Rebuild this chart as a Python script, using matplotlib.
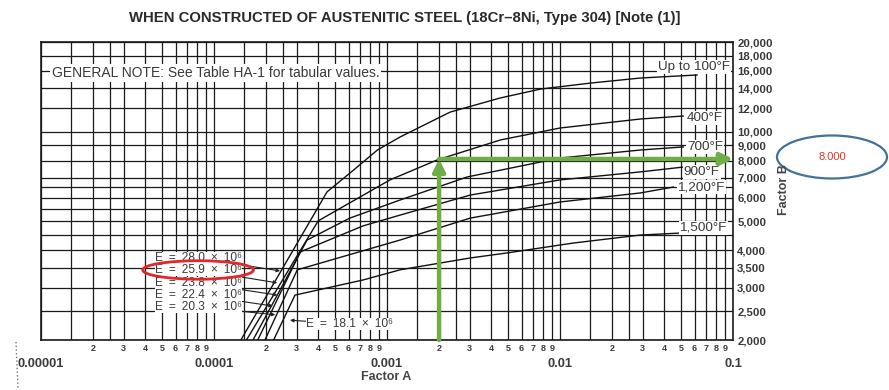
import matplotlib
matplotlib.use("Agg")
import matplotlib.pyplot as plt
from matplotlib.patches import Ellipse
from matplotlib.lines import Line2D
from matplotlib.ticker import FixedLocator, NullFormatter

plt.rcParams['font.family'] = ['Liberation Sans', 'DejaVu Sans']

# Factor A / Factor B curves (A dimensionless, B in psi)
a_100 = [1.43e-4, 4.5e-4, 6.4e-4, 8.8e-4, 1.19e-3, 2.32e-3, 4.52e-3, 7.7e-3, 1.5e-2, 2.91e-2, 6.2e-2]
b_100 = [2000, 6280, 7430, 8680, 9600, 11640, 12980, 13900, 14560, 15140, 15500]

a_400 = [1.54e-4, 4.0e-4, 1.04e-3, 1.95e-3, 4.52e-3, 1.0e-2, 2.91e-2, 5.16e-2]
b_400 = [2000, 5020, 6890, 8040, 9380, 10290, 11030, 11290]

a_700 = [1.68e-4, 3.45e-4, 6.1e-4, 1.19e-3, 2.91e-3, 1.0e-2, 2.91e-2, 5.16e-2]
b_700 = [2000, 4330, 5130, 5900, 7050, 8160, 8680, 8890]

a_900 = [1.79e-4, 3.15e-4, 7.27e-4, 1.19e-3, 3.03e-3, 1.0e-2, 2.91e-2, 5.16e-2]
b_900 = [2000, 3950, 4830, 5250, 6130, 6890, 7330, 7610]

a_1200 = [1.97e-4, 3.03e-4, 1.19e-3, 3.03e-3, 1.0e-2, 2.91e-2, 4.52e-2]
b_1200 = [2000, 3440, 4330, 5130, 5810, 6230, 6520]

a_1500 = [2.21e-4, 2.94e-4, 7.27e-4, 1.19e-3, 3.03e-3, 4.96e-3, 1.19e-2, 2.91e-2, 4.96e-2]
b_1500 = [2000, 2830, 3180, 3440, 3770, 3920, 4230, 4500, 4570]

curve_labels = ["Up to 100°F", "400°F", "700°F", "900°F", "1,200°F", "1,500°F"]
e_values = ["28.0", "25.9", "23.8", "22.4", "20.3", "18.1"]
# point on each elastic line where the E leader ends
e_tip_a = [2.41e-4, 2.32e-4, 2.32e-4, 2.19e-4, 2.26e-4, 2.75e-4]
e_tip_b = [3410, 3110, 2830, 2600, 2430, 2330]

# worked example: A = 0.002 -> B = 8,000
read_a = 0.002
read_b = 8100
read_text = "8.000"

x_major = [1e-5, 1e-4, 1e-3, 1e-2, 1e-1]
x_major_labels = ["0.00001", "0.0001", "0.001", "0.01", "0.1"]
x_minor_digits = [2, 3, 4, 5, 6, 7, 8, 9]
x_grid_mult = [1, 1.5, 2, 2.5, 3, 4, 5, 6, 7, 8, 9]

y_ticks = [2000, 2500, 3000, 3500, 4000, 5000, 6000, 7000, 8000, 9000,
           10000, 12000, 14000, 16000, 18000, 20000]
y_grid = [2000, 2500, 3000, 3500, 4000, 4500, 5000, 5500, 6000, 6500, 7000,
          8000, 9000, 10000, 12000, 14000, 16000, 18000, 20000]

green = "#70AD47"
ink = "#1a1a1a"
txt = "#3a3a3a"

fig = plt.figure(figsize=(8.89, 3.9), dpi=100)
ax = fig.add_axes([41 / 889, 1 - 340 / 390, 692 / 889, 298 / 390])
ax.set_xscale("log")
ax.set_yscale("log")
ax.set_xlim(1e-5, 1e-1)
ax.set_ylim(2000, 20000)

# grid
for k in range(-5, -1):
    for m in x_grid_mult:
        ax.axvline(m * 10.0 ** k, color=ink, lw=0.9, zorder=1)
for yv in y_grid:
    ax.axhline(yv, color=ink, lw=0.9, zorder=1)

# curves
curves = [(a_100, b_100), (a_400, b_400), (a_700, b_700),
          (a_900, b_900), (a_1200, b_1200), (a_1500, b_1500)]
for a, b in curves:
    ax.plot(a, b, color="#111111", lw=1.0, zorder=3)

# curve labels
lab_x = [0.9957, 0.9855, 0.9855, 0.981, 0.988, 0.991]
lab_y = [0.916, 0.745, 0.648, 0.564, 0.513, 0.376]
for s, lx, ly in zip(curve_labels, lab_x, lab_y):
    ax.text(lx, ly, s, transform=ax.transAxes, ha="right", va="center",
            fontsize=9.7, color=txt, zorder=4,
            bbox=dict(boxstyle="square,pad=0.06", fc="white", ec="none"))

# E labels with leaders (en spaces give the wide spacing of the original)
sp2 = "\u2002"
e_pos_x = [0.1647] * 5 + [0.383]
e_pos_y = [0.275, 0.235, 0.191, 0.151, 0.111, 0.0537]
for ev, ta, tb, px, py in zip(e_values, e_tip_a, e_tip_b, e_pos_x, e_pos_y):
    label = "E" + sp2 + "=" + sp2 + ev + sp2 + "×" + sp2 + "10⁶"
    ax.annotate(label, xy=(ta, tb), xycoords="data",
                xytext=(px, py), textcoords="axes fraction",
                ha="left", va="center", fontsize=8.6, color=txt, zorder=4,
                bbox=dict(boxstyle="square,pad=0.0", fc="white", ec="none"),
                arrowprops=dict(arrowstyle="-|>", color="#222222", lw=0.8,
                                mutation_scale=5, shrinkA=0, shrinkB=0))

ax.text(0.0159, 0.896, "GENERAL NOTE: See Table HA-1 for tabular values.",
        transform=ax.transAxes, ha="left", va="center", fontsize=10, color=txt,
        zorder=4, bbox=dict(boxstyle="square,pad=0.12", fc="white", ec="none"))

# green reading arrows
ax.annotate("", xy=(read_a, read_b), xytext=(read_a, 2000),
            arrowprops=dict(arrowstyle="-|>", color=green, lw=3.2,
                            mutation_scale=18, shrinkA=0, shrinkB=0), zorder=5)
ax.annotate("", xy=(0.1, read_b), xytext=(read_a, read_b),
            arrowprops=dict(arrowstyle="-|>", color=green, lw=3.2,
                            mutation_scale=18, shrinkA=0, shrinkB=0), zorder=5)

# red ring around the selected E
ax.add_patch(Ellipse((0.2270, 0.235), 0.160, 0.062, transform=ax.transAxes,
                     fill=False, ec="#E3262B", lw=2, zorder=6, clip_on=False))

# axes ticks
ax.xaxis.set_major_locator(FixedLocator(x_major))
ax.set_xticklabels(x_major_labels)
minor_locs = [d * 10.0 ** k for k in range(-5, -1) for d in x_minor_digits]
ax.xaxis.set_minor_locator(FixedLocator(minor_locs))
ax.set_xticklabels([str(d) for k in range(-5, -1) for d in x_minor_digits], minor=True)
ax.tick_params(axis="x", which="major", length=0, pad=13, labelsize=9.3, labelcolor=txt)
ax.tick_params(axis="x", which="minor", length=0, pad=3, labelsize=6.5, labelcolor=txt)
for t in ax.get_xticklabels(which="both"):
    t.set_fontweight("bold")

ax.yaxis.tick_right()
ax.yaxis.set_major_locator(FixedLocator(y_ticks))
ax.yaxis.set_minor_locator(FixedLocator([]))
ax.yaxis.set_minor_formatter(NullFormatter())
ax.set_yticklabels(["{:,}".format(v) for v in y_ticks])
ax.tick_params(axis="y", which="major", length=0, pad=3, labelsize=8.2, labelcolor=txt)
for t in ax.get_yticklabels():
    t.set_fontweight("bold")

for sp in ax.spines.values():
    sp.set_linewidth(1.2)
    sp.set_color(ink)

# titles and axis names
fig.text(0.4556, 0.954, "WHEN CONSTRUCTED OF AUSTENITIC STEEL (18Cr\u20138Ni, Type 304) [Note (1)]",
         ha="center", va="center", fontsize=10.7, fontweight="bold", color="#2a2a2a")
fig.text(386 / 889, 1 - 377 / 390, "Factor A", ha="center", va="center",
         fontsize=9, fontweight="bold", color="#444444")
fig.text(784 / 889, 1 - 190 / 390, "Factor B", ha="center", va="center",
         rotation=90, fontsize=9, fontweight="bold", color="#444444")

# callout with the value
fig.add_artist(Ellipse((832 / 889, 1 - 157 / 390), 110 / 889, 43 / 390,
                       transform=fig.transFigure, fill=False, ec="#41719C", lw=1.6))
fig.text(832 / 889, 1 - 157 / 390, read_text, ha="center", va="center",
         fontsize=8, color="#E0342C")

# scan artefact at the lower left
fig.add_artist(Line2D([16 / 889, 18 / 889], [1 - 342 / 390, 1 - 388 / 390],
                      transform=fig.transFigure, ls=":", lw=1, color="#777777"))

fig.savefig("out.png", dpi=100)
